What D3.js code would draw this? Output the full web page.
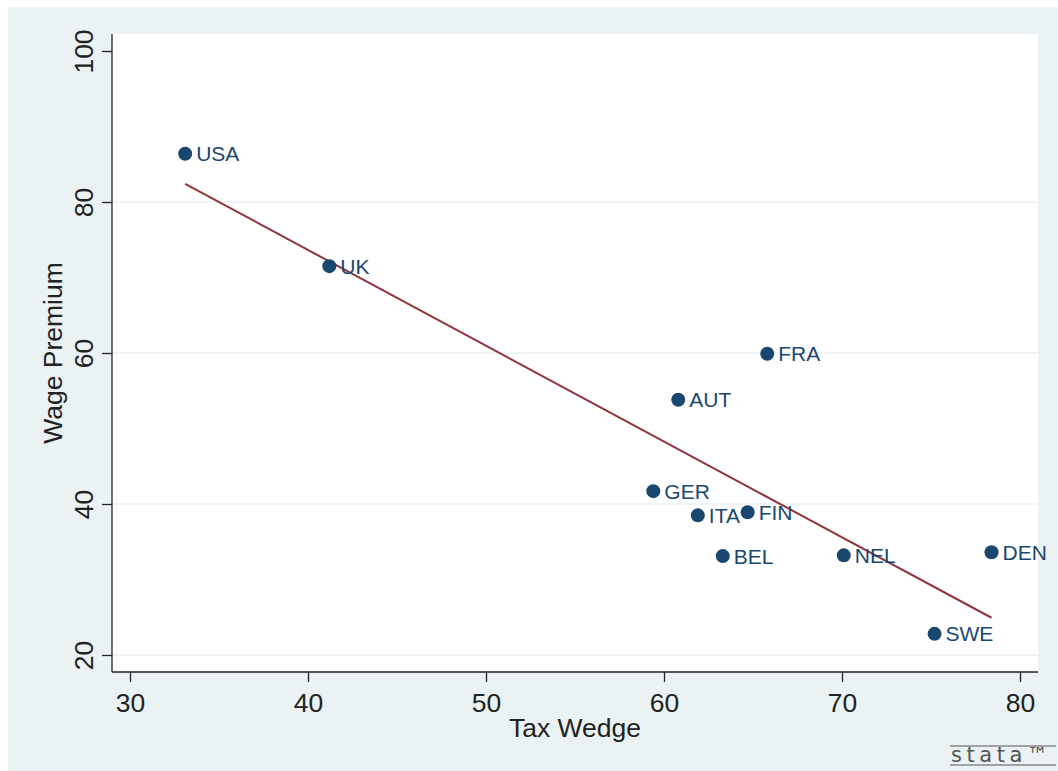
<!DOCTYPE html>
<html>
<head>
<meta charset="utf-8">
<script src="https://cdn.jsdelivr.net/npm/d3@7/dist/d3.min.js"></script>
<style>
  html, body { margin: 0; padding: 0; background: #ffffff; }
  svg { display: block; font-family: "Liberation Sans", Arial, sans-serif; }
</style>
</head>
<body>
<svg id="chart" width="1058" height="771"></svg>
<script>
// Countries: tax wedge vs. wage premium
const countries   = ["USA", "UK", "FRA", "AUT", "GER", "ITA", "FIN", "BEL", "NEL", "DEN", "SWE"];
const taxWedge    = [33.1, 41.2, 65.8, 60.8, 59.4, 61.9, 64.7, 63.3, 70.1, 78.4, 75.2];
const wagePremium = [86.4, 71.5, 59.9, 53.8, 41.7, 38.5, 38.9, 33.1, 33.2, 33.6, 22.8];

const xTicks = [30, 40, 50, 60, 70, 80];
const yTicks = [20, 40, 60, 80, 100];
const xTitle = "Tax Wedge";
const yTitle = "Wage Premium";

const svg = d3.select("#chart");

// Outer graph region and inner plot region
const outer = { x0: 8, y0: 7, x1: 1058, y1: 771 };
const plot  = { x0: 112, y0: 34, x1: 1038, y1: 672 };

const navy   = "#1a476f";
const maroon = "#90353b";
const bgBlue = "#eaf2f3";
const ink    = "#222222";

svg.append("rect")
  .attr("x", outer.x0).attr("y", outer.y0)
  .attr("width", outer.x1 - outer.x0).attr("height", outer.y1 - outer.y0)
  .attr("fill", bgBlue);

svg.append("rect")
  .attr("x", plot.x0).attr("y", plot.y0)
  .attr("width", plot.x1 - plot.x0).attr("height", plot.y1 - plot.y0)
  .attr("fill", "#ffffff");

// Scales: the labelled tick range sits inside the plot region
const x = d3.scaleLinear().domain([30, 80]).range([130, 1020]);
const y = d3.scaleLinear().domain([20, 100]).range([655, 51]);

// Horizontal grid lines
svg.append("g")
  .selectAll("line")
  .data(yTicks.filter(t => t < 100))
  .join("line")
  .attr("x1", plot.x0).attr("x2", plot.x1)
  .attr("y1", d => y(d)).attr("y2", d => y(d))
  .attr("stroke", bgBlue).attr("stroke-width", 1.6);

// X axis
const xAxis = svg.append("g")
  .attr("transform", `translate(0,${plot.y1})`)
  .call(d3.axisBottom(x).tickValues(xTicks).tickSize(10).tickPadding(11).tickFormat(d3.format("d")));
xAxis.select(".domain").remove();
xAxis.selectAll(".tick line").attr("stroke", ink).attr("stroke-width", 1.3);
xAxis.selectAll(".tick text")
  .attr("fill", ink).attr("font-size", 26.5)
  .attr("font-family", "Liberation Sans, Arial, sans-serif");
svg.append("line")
  .attr("x1", plot.x0).attr("x2", plot.x1)
  .attr("y1", plot.y1).attr("y2", plot.y1)
  .attr("stroke", ink).attr("stroke-width", 1.3);

// Y axis with vertical tick labels
const yAxis = svg.append("g")
  .attr("transform", `translate(${plot.x0},0)`)
  .call(d3.axisLeft(y).tickValues(yTicks).tickSize(10).tickFormat(d3.format("d")));
yAxis.select(".domain").remove();
yAxis.selectAll(".tick line").attr("stroke", ink).attr("stroke-width", 1.3);
yAxis.selectAll(".tick text")
  .attr("fill", ink).attr("font-size", 26.5)
  .attr("font-family", "Liberation Sans, Arial, sans-serif")
  .attr("text-anchor", "middle")
  .attr("dy", null)
  .attr("x", null)
  .attr("transform", "translate(-19,0) rotate(-90)");
svg.append("line")
  .attr("x1", plot.x0).attr("x2", plot.x0)
  .attr("y1", plot.y0).attr("y2", plot.y1)
  .attr("stroke", ink).attr("stroke-width", 1.3);

// Axis titles
svg.append("text")
  .attr("x", (plot.x0 + plot.x1) / 2).attr("y", 737)
  .attr("text-anchor", "middle")
  .attr("font-size", 26.5).attr("fill", ink)
  .text(xTitle);

svg.append("text")
  .attr("transform", `translate(62,${(plot.y0 + plot.y1) / 2}) rotate(-90)`)
  .attr("text-anchor", "middle")
  .attr("font-size", 26.5).attr("fill", ink)
  .text(yTitle);

// Least-squares fitted line over the observed range
const mx = d3.mean(taxWedge), my = d3.mean(wagePremium);
const sxy = d3.sum(taxWedge, (v, i) => (v - mx) * (wagePremium[i] - my));
const sxx = d3.sum(taxWedge, v => (v - mx) * (v - mx));
const slope = sxy / sxx, intercept = my - slope * mx;
const [xmin, xmax] = d3.extent(taxWedge);

svg.append("path")
  .datum([xmin, xmax])
  .attr("d", d3.line().x(d => x(d)).y(d => y(intercept + slope * d)))
  .attr("stroke", maroon).attr("stroke-width", 2).attr("fill", "none");

// Points with country labels
const pts = countries.map((c, i) => ({ c, tx: taxWedge[i], wp: wagePremium[i] }));
const g = svg.append("g");
g.selectAll("circle")
  .data(pts)
  .join("circle")
  .attr("cx", d => x(d.tx)).attr("cy", d => y(d.wp))
  .attr("r", 7)
  .attr("fill", navy);

g.selectAll("text")
  .data(pts)
  .join("text")
  .attr("x", d => x(d.tx) + 11).attr("y", d => y(d.wp))
  .attr("dy", "0.36em")
  .attr("font-size", 21)
  .attr("fill", navy)
  .text(d => d.c);

// Stata mark in the bottom-right corner
const logo = svg.append("g").attr("fill", "#555555");
logo.append("line").attr("x1", 950).attr("x2", 1056).attr("y1", 746).attr("y2", 746)
  .attr("stroke", "#555555").attr("stroke-width", 1.2);
logo.append("line").attr("x1", 950).attr("x2", 1056).attr("y1", 765).attr("y2", 765)
  .attr("stroke", "#555555").attr("stroke-width", 1.2);
logo.append("text")
  .attr("x", 951).attr("y", 762)
  .attr("font-size", 21).attr("letter-spacing", 3)
  .attr("font-family", "DejaVu Sans, sans-serif")
  .attr("textLength", 100)
  .text("stata™");
</script>
</body>
</html>
